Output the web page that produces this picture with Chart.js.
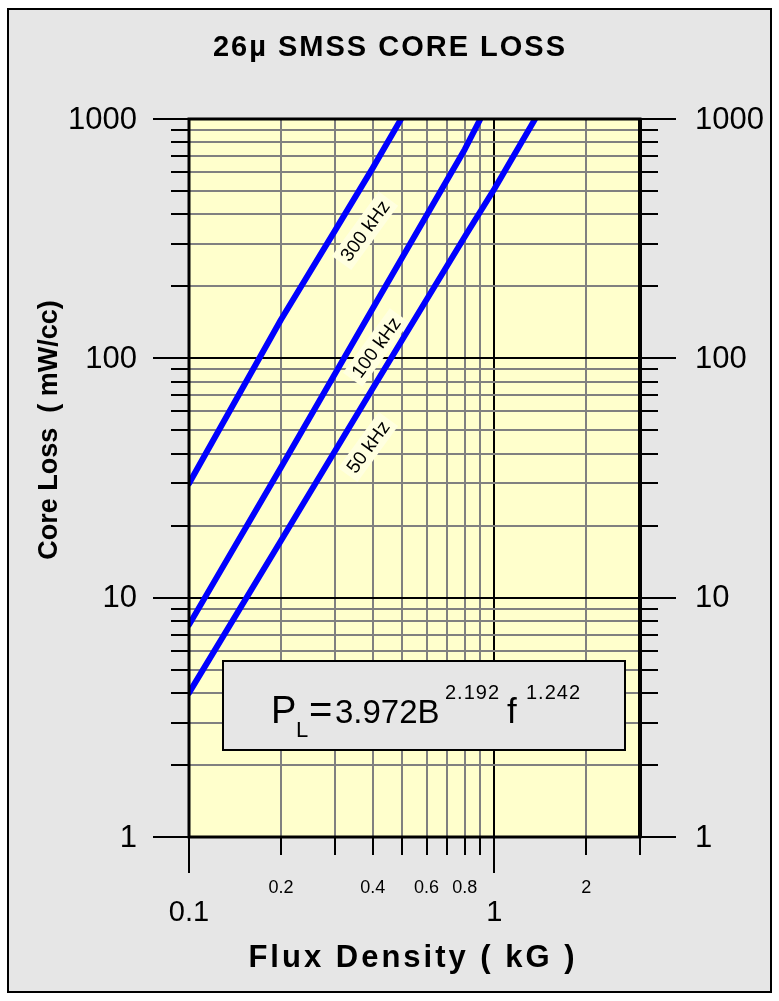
<!DOCTYPE html>
<html>
<head>
<meta charset="utf-8">
<title>26u SMSS Core Loss</title>
<script src="https://cdn.jsdelivr.net/npm/chart.js@4.4.0/dist/chart.umd.min.js"></script>
<style>
    html, body { margin: 0; padding: 0; background: #fff; }
    #wrap { width: 779px; height: 1001px; }
</style>
</head>
<body>
<div id="wrap"><canvas id="coreLossChart" width="779" height="1001"></canvas></div>
<script>
// Points: flux density (kG) vs core loss (mW/cc)
const flux300 = [0.1, 0.2, 0.3, 0.4, 0.495];
const loss300 = [30, 145, 340, 625, 1000];
const flux100 = [0.1, 0.2, 0.4, 0.8, 0.9];
const loss100 = [7.7, 35, 162, 746, 1000];
const flux50 = [0.1, 0.2, 0.4, 0.8, 1.0, 1.36];
const loss50 = [4.0, 17.3, 75, 322, 510, 1000];

// Curve labels and where they sit (data coordinates)
const curveLabels = ['300 kHz', '100 kHz', '50 kHz'];
const labelAtX = [0.377, 0.41, 0.386];
const labelAtY = [341, 111, 42.6];

// Axis ticks
const xTicks = [0.1, 0.2, 0.3, 0.4, 0.5, 0.6, 0.7, 0.8, 0.9, 1, 2, 3];
const xMajor = [0.1, 1];
const xSmallLabels = [0.2, 0.4, 0.6, 0.8, 2];
const yTicks = [1, 2, 3, 4, 5, 6, 7, 8, 9,
                10, 20, 30, 40, 50, 60, 70, 80, 90,
                100, 200, 300, 400, 500, 600, 700, 800, 900, 1000];
const yMajor = [1, 10, 100, 1000];

const FONT = '"Liberation Sans", Arial, Helvetica, sans-serif';

function toPoints(xs, ys) {
    return xs.map((x, i) => ({ x: x, y: ys[i] }));
}

function curve(xs, ys) {
    return {
        data: toPoints(xs, ys),
        borderColor: '#0000ff',
        borderWidth: 6,
        borderCapStyle: 'round',
        borderJoinStyle: 'round',
        pointRadius: 0,
        tension: 0,
        fill: false
    };
}

// Grey page, outer frame and the yellow plot area
const backdrop = {
    id: 'backdrop',
    beforeDraw(chart) {
        const { ctx, chartArea: a } = chart;
        ctx.save();
        ctx.fillStyle = '#ffffff';
        ctx.fillRect(0, 0, chart.width, chart.height);
        ctx.fillStyle = '#e6e6e6';
        ctx.fillRect(8, 9, 763, 983);
        ctx.lineWidth = 2;
        ctx.strokeStyle = '#000';
        ctx.strokeRect(8, 9, 763, 983);
        ctx.fillStyle = '#ffffcc';
        ctx.fillRect(a.left, a.top, a.right - a.left, a.bottom - a.top);
        ctx.restore();
    }
};

// Rotated frequency labels with a pale mask behind them
const curveTags = {
    id: 'curveTags',
    beforeDatasetsDraw(chart) {
        const { ctx, scales } = chart;
        ctx.save();
        ctx.font = '19px ' + FONT;
        ctx.textAlign = 'center';
        ctx.textBaseline = 'middle';
        curveLabels.forEach((txt, i) => {
            const px = scales.x.getPixelForValue(labelAtX[i]);
            const py = scales.y.getPixelForValue(labelAtY[i]);
            const w = ctx.measureText(txt).width;
            ctx.save();
            ctx.translate(px, py);
            ctx.rotate(-54 * Math.PI / 180);
            ctx.fillStyle = '#ffffe0';
            ctx.fillRect(-w / 2 - 5, -12, w + 10, 24);
            ctx.fillStyle = '#000';
            ctx.fillText(txt, 0, 1);
            ctx.restore();
        });
        ctx.restore();
    }
};

// Border, tick marks, tick labels, titles and the formula box
const decorations = {
    id: 'decorations',
    afterDraw(chart) {
        const { ctx, chartArea: a, scales } = chart;
        const xs = scales.x, ys = scales.y;
        ctx.save();

        // plot border
        ctx.strokeStyle = '#000';
        ctx.lineWidth = 3;
        ctx.strokeRect(a.left, a.top, a.right - a.left, a.bottom - a.top);
        ctx.lineWidth = 4;
        ctx.beginPath();
        ctx.moveTo(a.right, a.top - 1);
        ctx.lineTo(a.right, a.bottom + 1);
        ctx.stroke();

        // tick marks
        ctx.lineWidth = 2;
        ctx.beginPath();
        yTicks.forEach(v => {
            const py = Math.round(ys.getPixelForValue(v));
            const len = yMajor.includes(v) ? 36 : 18;
            ctx.moveTo(a.left - len, py);
            ctx.lineTo(a.left, py);
            ctx.moveTo(a.right, py);
            ctx.lineTo(a.right + len, py);
        });
        xTicks.forEach(v => {
            const px = Math.round(xs.getPixelForValue(v));
            const len = xMajor.includes(v) ? 36 : 18;
            ctx.moveTo(px, a.bottom);
            ctx.lineTo(px, a.bottom + len);
        });
        ctx.stroke();

        // y labels, both sides
        ctx.fillStyle = '#000';
        ctx.font = '31px ' + FONT;
        ctx.textBaseline = 'middle';
        yMajor.forEach(v => {
            const py = ys.getPixelForValue(v);
            ctx.textAlign = 'right';
            ctx.fillText(String(v), a.left - 52, py + 1);
            ctx.textAlign = 'left';
            ctx.fillText(String(v), a.right + 55, py + 1);
        });

        // x labels: decades large, the rest small and higher up
        ctx.textAlign = 'center';
        xMajor.forEach(v => {
            ctx.font = '29px ' + FONT;
            ctx.fillText(String(v), xs.getPixelForValue(v), a.bottom + 76);
        });
        xSmallLabels.forEach(v => {
            ctx.font = '18px ' + FONT;
            ctx.fillText(String(v), xs.getPixelForValue(v), a.bottom + 51);
        });

        // titles
        ctx.font = 'bold 29px ' + FONT;
        ctx.letterSpacing = '2px';
        ctx.fillText('26\u00b5 SMSS CORE LOSS', 390, 48);
        ctx.font = 'bold 31px ' + FONT;
        ctx.letterSpacing = '3px';
        ctx.fillText('Flux Density ( kG )', 413, 958);
        ctx.save();
        ctx.translate(50, 430);
        ctx.rotate(-Math.PI / 2);
        ctx.font = 'bold 27px ' + FONT;
        ctx.letterSpacing = '0px';
        ctx.fillText('Core Loss  ( mW/cc)', 0, 0);
        ctx.restore();
        ctx.letterSpacing = '0px';

        // formula box
        ctx.fillStyle = '#e6e6e6';
        ctx.fillRect(223, 661, 402, 89);
        ctx.lineWidth = 2;
        ctx.strokeStyle = '#000';
        ctx.strokeRect(223, 661, 402, 89);

        ctx.fillStyle = '#000';
        ctx.textAlign = 'left';
        ctx.textBaseline = 'alphabetic';
        const base = 723;
        const piece = (txt, size, x, dy, spacing) => {
            ctx.font = size + 'px ' + FONT;
            ctx.letterSpacing = (spacing || 0) + 'px';
            ctx.fillText(txt, x, base + dy);
        };
        piece('P', 38, 271, 0);
        piece('L', 22, 296, 14);
        piece('=', 40, 309, 0);
        piece('3.972B', 33, 335, 0);
        piece('2.192', 20, 445, -24, 1);
        piece('f', 35, 507, 0);
        piece('1.242', 20, 526, -24, 1);

        ctx.restore();
    }
};

function gridColor(major) {
    return c => (c.tick && major.includes(c.tick.value)) ? '#000000' : '#808080';
}

const chart = new Chart(document.getElementById('coreLossChart').getContext('2d'), {
    type: 'line',
    data: {
        datasets: [curve(flux300, loss300), curve(flux100, loss100), curve(flux50, loss50)]
    },
    options: {
        responsive: false,
        animation: false,
        devicePixelRatio: 1,
        layout: { padding: { left: 189, top: 119, right: 139, bottom: 164 } },
        plugins: {
            legend: { display: false },
            tooltip: { enabled: false },
            title: { display: false }
        },
        scales: {
            x: {
                type: 'logarithmic',
                min: 0.1,
                max: 3,
                afterBuildTicks: s => { s.ticks = xTicks.map(v => ({ value: v })); },
                ticks: { display: false },
                border: { display: false },
                grid: { color: gridColor(xMajor), lineWidth: 2, drawTicks: false }
            },
            y: {
                type: 'logarithmic',
                min: 1,
                max: 1000,
                afterBuildTicks: s => { s.ticks = yTicks.map(v => ({ value: v })); },
                ticks: { display: false },
                border: { display: false },
                grid: { color: gridColor(yMajor), lineWidth: 2, drawTicks: false }
            }
        }
    },
    plugins: [backdrop, curveTags, decorations]
});
</script>
</body>
</html>
